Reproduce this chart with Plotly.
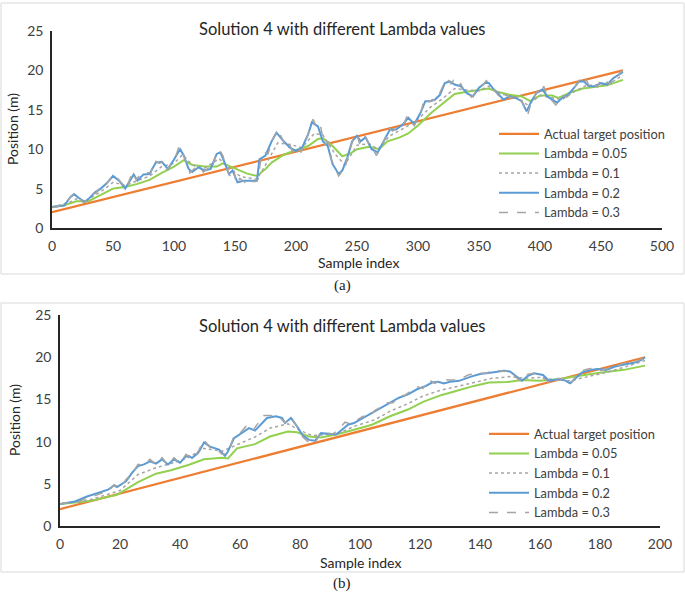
import plotly.graph_objects as go

# ---------------- Panel (a) data ----------------
a_target_idx = [0, 468]
a_target_val = [2.0, 20.0]

a_l005_idx = [0, 10, 20, 30, 40, 50, 55, 60, 70, 80, 90, 100, 108, 115, 125, 135, 140, 145, 150, 160, 168, 175, 180, 190, 200, 210, 218, 222, 230, 238, 245, 250, 260, 268, 275, 285, 292, 300, 310, 320, 330, 340, 350, 358, 365, 375, 385, 392, 400, 410, 415, 425, 435, 445, 455, 468]
a_l005_val = [2.65, 2.9, 3.4, 3.4, 4.2, 5.0, 5.1, 5.2, 5.6, 6.1, 7.0, 7.8, 8.6, 8.0, 7.8, 7.8, 8.2, 7.9, 7.5, 6.9, 6.6, 7.5, 8.3, 9.3, 9.9, 10.4, 11.3, 11.4, 10.4, 9.1, 9.5, 10.0, 10.3, 10.0, 11.0, 11.5, 12.0, 13.0, 14.5, 15.7, 17.0, 17.3, 17.5, 17.7, 17.3, 16.9, 16.7, 16.1, 16.8, 16.8, 16.5, 17.2, 17.7, 17.9, 18.1, 18.8]

a_l01_idx = [0, 15, 20, 27, 40, 50, 60, 70, 80, 90, 100, 107, 115, 125, 137, 145, 155, 168, 175, 185, 195, 205, 215, 222, 232, 240, 250, 260, 267, 277, 290, 300, 310, 320, 330, 340, 350, 358, 368, 380, 390, 400, 410, 418, 428, 438, 450, 460, 468]
a_l01_val = [2.65, 3.3, 3.7, 3.4, 4.6, 5.8, 5.4, 6.0, 6.6, 7.8, 8.2, 9.3, 8.0, 7.6, 8.8, 7.6, 6.5, 6.2, 8.0, 10.8, 10.6, 10.2, 12.0, 11.8, 9.4, 8.0, 10.5, 10.7, 10.0, 11.7, 12.8, 13.8, 15.3, 16.4, 17.7, 17.5, 17.4, 18.0, 17.0, 16.6, 15.6, 16.8, 16.5, 16.3, 17.3, 18.1, 18.1, 18.6, 19.4]

a_l02_idx = [0, 5, 10, 15, 18, 22, 27, 30, 35, 40, 45, 50, 55, 60, 63, 67, 70, 75, 80, 85, 90, 95, 100, 105, 108, 112, 115, 120, 125, 130, 135, 138, 142, 145, 148, 152, 157, 162, 168, 170, 175, 180, 184, 190, 195, 200, 205, 210, 213, 218, 222, 226, 230, 235, 238, 242, 246, 250, 253, 257, 262, 267, 272, 277, 282, 288, 292, 297, 302, 306, 310, 314, 318, 322, 326, 330, 335, 340, 345, 350, 355, 358, 362, 366, 370, 375, 380, 385, 389, 393, 397, 402, 406, 410, 414, 418, 423, 428, 432, 436, 440, 445, 450, 455, 460, 465, 468]
a_l02_val = [2.65, 2.75, 2.85, 3.9, 4.3, 3.8, 3.3, 3.7, 4.5, 5.0, 5.7, 6.6, 6.0, 5.0, 5.7, 6.8, 6.0, 6.8, 6.85, 8.3, 8.4, 7.5, 8.7, 10.0, 9.2, 7.5, 7.1, 7.7, 7.3, 7.5, 9.4, 9.6, 8.1, 6.85, 7.3, 5.8, 6.0, 6.0, 6.0, 8.7, 9.2, 11.0, 12.1, 11.0, 10.2, 9.8, 10.2, 11.9, 13.4, 12.9, 11.0, 10.4, 8.1, 6.85, 7.3, 8.9, 11.0, 11.7, 11.0, 11.5, 10.0, 9.6, 11.0, 12.5, 12.5, 13.2, 14.0, 13.2, 14.6, 16.1, 16.1, 16.3, 16.9, 18.4, 18.6, 18.2, 18.0, 17.1, 16.7, 17.8, 18.4, 18.4, 17.6, 16.9, 16.3, 16.7, 16.5, 16.1, 14.8, 16.1, 17.1, 17.6, 16.7, 16.3, 15.9, 16.5, 16.9, 17.8, 18.6, 18.6, 18.0, 18.0, 18.4, 18.2, 19.0, 19.5, 19.8]

a_l03_idx = [0, 4, 8, 12, 16, 19, 23, 26, 29, 32, 36, 39, 43, 47, 51, 54, 58, 61, 64, 66, 69, 73, 77, 81, 84, 88, 92, 94, 97, 101, 104, 107, 110, 113, 117, 121, 124, 128, 131, 134, 137, 140, 143, 146, 149, 151, 154, 158, 161, 164, 167, 169, 171, 174, 177, 181, 185, 188, 191, 194, 197, 201, 204, 207, 211, 214, 217, 220, 223, 227, 229, 232, 235, 237, 240, 243, 247, 250, 252, 256, 259, 263, 266, 269, 273, 276, 279, 283, 286, 289, 291, 294, 297, 300, 303, 305, 309, 312, 315, 318, 321, 324, 327, 329, 332, 335, 338, 341, 344, 347, 350, 353, 356, 359, 361, 364, 367, 369, 372, 376, 379, 382, 385, 388, 390, 392, 395, 398, 401, 403, 405, 408, 411, 413, 416, 419, 422, 425, 427, 430, 433, 435, 438, 441, 444, 447, 449, 452, 455, 458, 461, 464, 466, 468]
a_l03_val = [2.6, 2.7, 2.9, 3.3, 4.1, 4.4, 3.7, 3.2, 3.5, 4.3, 4.4, 5.1, 5.2, 6.1, 6.8, 6.3, 5.6, 5.0, 6.3, 7.1, 6.1, 6.9, 7.0, 7.0, 8.6, 8.2, 8.5, 7.4, 7.9, 8.9, 10.3, 9.6, 8.3, 7.0, 7.6, 7.8, 7.1, 7.6, 7.4, 9.2, 9.9, 9.2, 7.6, 6.6, 7.5, 5.6, 6.3, 5.8, 6.3, 5.9, 5.9, 6.2, 8.6, 9.6, 9.4, 11.3, 12.5, 11.6, 10.6, 11.0, 9.7, 10.3, 9.6, 10.6, 12.3, 13.8, 12.7, 13.0, 10.6, 10.9, 8.7, 7.6, 6.6, 7.0, 7.5, 9.4, 11.3, 11.9, 10.7, 11.8, 10.9, 10.0, 9.2, 10.1, 11.4, 12.8, 12.3, 12.7, 12.9, 13.4, 14.2, 13.5, 13.0, 14.0, 15.0, 16.4, 16.0, 16.3, 16.1, 17.2, 18.2, 18.9, 18.3, 18.7, 17.9, 18.3, 17.4, 17.0, 16.6, 17.2, 17.9, 18.1, 18.7, 18.2, 17.8, 17.1, 16.6, 16.4, 16.9, 16.5, 16.8, 16.3, 16.2, 14.9, 14.4, 15.5, 16.6, 17.4, 17.0, 18.0, 17.2, 16.5, 16.0, 15.6, 16.3, 16.8, 16.6, 17.1, 17.4, 18.3, 18.9, 18.3, 18.8, 17.8, 18.3, 17.9, 18.6, 18.1, 18.5, 18.3, 19.2, 19.3, 19.8, 19.9]

# ---------------- Panel (b) data ----------------
b_target_idx = [0, 195]
b_target_val = [2.0, 20.0]

b_l005_idx = [0, 10, 19, 22, 26, 32, 37, 43, 48, 54, 56, 59, 65, 70, 76, 79, 83, 87, 92, 98, 104, 110, 116, 121, 127, 132, 138, 143, 149, 154, 160, 166, 171, 177, 182, 188, 195]
b_l005_val = [2.62, 2.95, 3.7, 4.3, 5.2, 6.2, 6.6, 7.25, 7.9, 8.1, 8.0, 9.2, 9.7, 10.6, 11.2, 11.1, 10.6, 10.5, 10.85, 11.4, 12.0, 13.0, 13.8, 14.7, 15.5, 16.0, 16.6, 17.0, 17.05, 17.3, 17.2, 17.4, 17.7, 18.0, 18.25, 18.5, 19.0]

b_l01_idx = [0, 10, 20, 26, 32, 37, 43, 48, 54, 59, 65, 70, 76, 79, 84, 87, 93, 98, 105, 110, 116, 121, 127, 132, 138, 144, 150, 155, 160, 165, 170, 175, 182, 188, 195]
b_l01_val = [2.62, 3.1, 4.2, 6.1, 6.9, 7.4, 8.15, 9.2, 8.85, 9.6, 10.55, 11.6, 12.1, 11.5, 10.7, 10.8, 11.0, 11.8, 12.6, 13.6, 14.5, 15.4, 16.1, 16.5, 17.0, 17.5, 17.7, 17.5, 17.6, 17.3, 17.2, 17.6, 18.2, 18.8, 19.6]

b_l02_idx = [0, 5, 9, 13, 16, 18, 19, 22, 24, 26, 28, 30, 32, 34, 36, 38, 40, 42, 43, 44, 46, 47, 48, 50, 53, 55, 56, 58, 61, 63, 65, 67, 69, 72, 74, 75, 77, 79, 81, 83, 85, 87, 89, 92, 94, 96, 98, 100, 102, 104, 108, 111, 113, 116, 119, 122, 124, 126, 128, 130, 133, 137, 140, 144, 148, 150, 152, 154, 156, 158, 161, 163, 166, 168, 170, 172, 174, 177, 179, 182, 185, 189, 192, 194, 195]
b_l02_val = [2.62, 2.9, 3.5, 4.0, 4.3, 4.8, 4.6, 5.3, 6.3, 7.1, 7.3, 7.65, 7.4, 7.9, 7.3, 7.9, 7.5, 8.25, 8.3, 8.05, 8.65, 9.25, 9.9, 9.4, 9.05, 8.3, 8.85, 10.4, 11.1, 11.6, 11.3, 12.0, 12.8, 13.0, 12.8, 12.2, 12.8, 11.8, 10.7, 10.2, 10.1, 11.0, 10.95, 10.85, 11.4, 12.0, 12.2, 12.6, 13.0, 13.5, 14.2, 14.8, 15.2, 15.6, 16.2, 16.6, 17.0, 17.1, 16.9, 17.1, 17.2, 17.7, 18.0, 18.2, 18.4, 18.3, 17.7, 17.2, 17.8, 18.1, 17.9, 17.2, 17.4, 17.3, 16.9, 17.6, 18.2, 18.5, 18.6, 18.5, 18.9, 19.2, 19.4, 19.7, 20.0]

b_l03_idx = [0, 3, 6, 8, 11, 14, 16, 18, 20, 22, 24, 26, 28, 30, 32, 34, 36, 38, 40, 42, 44, 46, 48, 50, 52, 54, 56, 58, 60, 62, 64, 66, 68, 70, 72, 74, 75, 77, 79, 81, 83, 85, 87, 89, 91, 93, 95, 97, 99, 101, 103, 105, 107, 109, 111, 113, 115, 117, 119, 121, 123, 125, 127, 130, 133, 136, 139, 142, 145, 148, 150, 152, 154, 156, 158, 160, 162, 164, 166, 168, 170, 172, 174, 176, 178, 180, 182, 184, 186, 188, 190, 192, 194, 195]
b_l03_val = [2.6, 2.8, 2.8, 3.2, 3.5, 3.9, 4.0, 4.9, 4.5, 5.5, 6.2, 7.3, 7.2, 7.9, 7.3, 8.1, 7.2, 8.1, 7.4, 8.5, 8.0, 8.8, 10.2, 9.3, 9.2, 8.5, 8.6, 10.7, 11.0, 11.8, 11.2, 12.1, 13.1, 13.1, 13.0, 12.6, 12.2, 12.9, 11.8, 10.5, 9.9, 9.8, 11.2, 11.0, 10.9, 11.5, 12.3, 12.1, 12.6, 13.0, 12.9, 13.7, 14.1, 14.6, 14.6, 15.4, 15.5, 16.0, 16.5, 16.3, 17.3, 16.9, 17.4, 17.3, 17.3, 17.9, 18.1, 18.1, 18.5, 18.3, 18.4, 17.6, 17.1, 18.0, 18.1, 17.8, 17.3, 16.8, 17.5, 17.4, 16.7, 17.8, 18.4, 18.6, 18.7, 18.4, 18.6, 18.8, 19.0, 19.3, 19.4, 19.5, 19.8, 20.0]

series_names = ["Actual target position", "Lambda = 0.05", "Lambda = 0.1", "Lambda = 0.2", "Lambda = 0.3"]
x_ticks_a = [0, 50, 100, 150, 200, 250, 300, 350, 400, 450, 500]
x_ticks_b = [0, 20, 40, 60, 80, 100, 120, 140, 160, 180, 200]
y_ticks = [0, 5, 10, 15, 20, 25]

W, H = 685, 594
def px(x):
    return x / W
def py(y):
    return 1 - y / H

styles = [
    dict(color="#ED7D31", width=2.2, dash="solid"),
    dict(color="#92D050", width=2.0, dash="solid"),
    dict(color="#A5A5A5", width=1.5, dash="dot"),
    dict(color="#5B9BD5", width=2.0, dash="solid"),
    dict(color="#A5A5A5", width=1.5, dash="dash"),
]

fig = go.Figure()
a_data = [(a_target_idx, a_target_val), (a_l005_idx, a_l005_val), (a_l01_idx, a_l01_val),
          (a_l02_idx, a_l02_val), (a_l03_idx, a_l03_val)]
b_data = [(b_target_idx, b_target_val), (b_l005_idx, b_l005_val), (b_l01_idx, b_l01_val),
          (b_l02_idx, b_l02_val), (b_l03_idx, b_l03_val)]
for (xs, ys), name, st in zip(a_data, series_names, styles):
    fig.add_trace(go.Scatter(x=xs, y=ys, mode="lines", name=name, line=st,
                             xaxis="x", yaxis="y", legend="legend"))
for (xs, ys), name, st in zip(b_data, series_names, styles):
    fig.add_trace(go.Scatter(x=xs, y=ys, mode="lines", name=name, line=st,
                             xaxis="x2", yaxis="y2", legend="legend2"))

tickfont = dict(family="Lato", size=14, color="#404040")
axis_common = dict(showgrid=False, zeroline=False, showline=True, linecolor="#262626",
                   linewidth=1.5, ticks="", tickfont=tickfont, ticklabelstandoff=4,
                   automargin=False)

legend_common = dict(font=dict(family="Lato", size=12.8, color="#404040"),
                     bgcolor="rgba(0,0,0,0)", borderwidth=0, tracegroupgap=0,
                     xanchor="left", yanchor="top", itemwidth=40)

def note(text, x, y, size=14, family="Lato", color="#262626", angle=0):
    return dict(text=text, x=px(x), y=py(y), xref="paper", yref="paper",
                xanchor="center", yanchor="middle", textangle=angle,
                showarrow=False, font=dict(family=family, size=size, color=color))

fig.update_layout(
    width=W, height=H, margin=dict(l=0, r=0, t=0, b=0, pad=0, autoexpand=False),
    paper_bgcolor="white", plot_bgcolor="white",
    showlegend=True,
    xaxis=dict(domain=[px(52), px(662)], range=[0, 500], tickvals=x_ticks_a, anchor="y", **axis_common),
    yaxis=dict(domain=[py(228), py(31)], range=[0, 25], tickvals=y_ticks, anchor="x", **axis_common),
    xaxis2=dict(domain=[px(60), px(660)], range=[0, 200], tickvals=x_ticks_b, anchor="y2", **axis_common),
    yaxis2=dict(domain=[py(526), py(315)], range=[0, 25], tickvals=y_ticks, anchor="x2", **axis_common),
    legend=dict(x=px(494), y=py(119), **legend_common),
    legend2=dict(x=px(484), y=py(419), **legend_common),
    shapes=[
        dict(type="rect", xref="paper", yref="paper", x0=px(1), x1=px(684), y0=py(274), y1=py(3),
             line=dict(color="#D9D9D9", width=1)),
        dict(type="rect", xref="paper", yref="paper", x0=px(1), x1=px(684), y0=py(572), y1=py(303),
             line=dict(color="#D9D9D9", width=1)),
    ],
    annotations=[
        note("Solution 4 with different Lambda values", 342, 29, size=16.5),
        note("Solution 4 with different Lambda values", 342, 326, size=16.5),
        note("Sample index", 358, 262),
        note("Sample index", 360, 562),
        note("Position (m)", 13, 129, angle=-90),
        note("Position (m)", 14, 420, angle=-90),
        note("(a)", 342, 285, size=15, family="Liberation Serif", color="#222222"),
        note("(b)", 342, 583, size=15, family="Liberation Serif", color="#222222"),
    ],
)

fig.write_html("out.html", config={"displayModeBar": False},
               post_script="document.body.style.margin='0';document.body.style.overflow='hidden';")
